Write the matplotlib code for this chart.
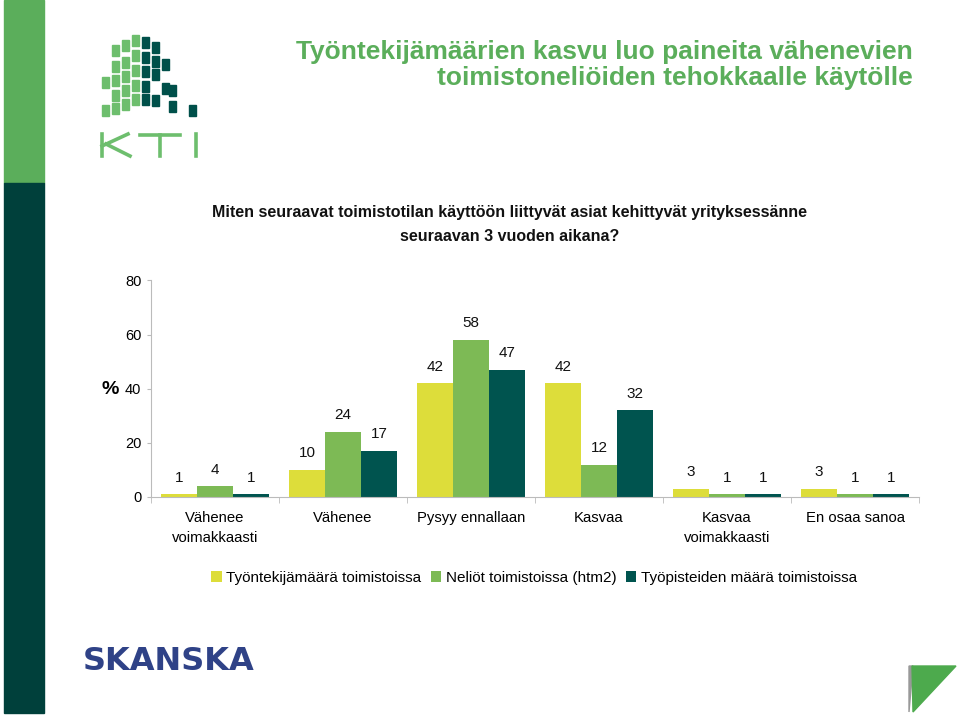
import matplotlib
matplotlib.use("Agg")
import matplotlib.pyplot as plt
from matplotlib.patches import Rectangle, Polygon
from matplotlib.lines import Line2D
import numpy as np

plt.rcParams['font.family'] = ['Liberation Sans', 'DejaVu Sans']

categories = ["Vähenee\nvoimakkaasti", "Vähenee", "Pysyy ennallaan", "Kasvaa",
              "Kasvaa\nvoimakkaasti", "En osaa sanoa"]
series_names = ["Työntekijämäärä toimistoissa", "Neliöt toimistoissa (htm2)",
                "Työpisteiden määrä toimistoissa"]
tyontekijat = [1, 10, 42, 42, 3, 3]
neliot = [4, 24, 58, 12, 1, 1]
tyopisteet = [1, 17, 47, 32, 1, 1]
yticks = [0, 20, 40, 60, 80]

colors = ["#DDDD3A", "#7DBA55", "#00544F"]

W, H = 960, 716
fig = plt.figure(figsize=(W / 100, H / 100), dpi=100)

def fx(px):
    return px / W

def fy(py):
    return 1 - py / H

# left decorative strip
fig.patches.append(Rectangle((fx(4), fy(183)), fx(40), 183 / H, transform=fig.transFigure,
                             color="#5BAE5B", zorder=0))
fig.patches.append(Rectangle((fx(4), fy(713)), fx(40), 530 / H, transform=fig.transFigure,
                             color="#00403B", zorder=0))

# KTI logo squares (decorative)
light = [(135, 40), (135, 55), (135, 70), (135, 85), (135, 99),
         (125, 45), (125, 62), (125, 76), (125, 90), (125, 104),
         (115, 50), (115, 66), (115, 80), (115, 95), (115, 108),
         (105, 82), (105, 110)]
dark = [(145, 42), (145, 57), (145, 71), (145, 86), (145, 99),
        (155, 47), (155, 61), (155, 74), (155, 100),
        (165, 64), (165, 88), (172, 90), (172, 106), (192, 110)]
for pts, c in ((light, "#6DBE6D"), (dark, "#00504A")):
    for (x, y) in pts:
        fig.patches.append(Rectangle((fx(x - 3), fy(y + 6)), fx(7), 11 / H,
                                     transform=fig.transFigure, color=c, zorder=1))
kc = "#6DBE6D"
for (x0, y0, x1, y1) in [(102, 134, 102, 156), (102, 146, 128, 134), (106, 144, 130, 156),
                         (140, 135, 180, 135), (160, 135, 160, 156), (196, 134, 196, 156)]:
    fig.lines.append(Line2D([fx(x0), fx(x1)], [fy(y0), fy(y1)], transform=fig.transFigure,
                            color=kc, lw=2.6))

# titles
fig.text(fx(913), fy(52), "Työntekijämäärien kasvu luo paineita vähenevien",
         ha="right", va="center", fontsize=19, fontweight="bold", color="#5BAE5B")
fig.text(fx(913), fy(78), "toimistoneliöiden tehokkaalle käytölle",
         ha="right", va="center", fontsize=19, fontweight="bold", color="#5BAE5B")
fig.text(fx(510), fy(213), "Miten seuraavat toimistotilan käyttöön liittyvät asiat kehittyvät yrityksessänne",
         ha="center", va="center", fontsize=11.5, fontweight="bold", color="#111111")
fig.text(fx(510), fy(236), "seuraavan 3 vuoden aikana?",
         ha="center", va="center", fontsize=11.5, fontweight="bold", color="#111111")

# chart
ax = fig.add_axes([fx(151), fy(497), fx(768), (497 - 280.5) / H])
x = np.arange(len(categories))
bw = 0.28
for i, (vals, c, name) in enumerate(zip([tyontekijat, neliot, tyopisteet], colors, series_names)):
    bars = ax.bar(x + (i - 1) * bw, vals, width=bw, color=c, label=name, zorder=2)
    for b, v in zip(bars, vals):
        ax.annotate(str(v), (b.get_x() + b.get_width() / 2, v), xytext=(0, 12),
                    textcoords="offset points", ha="center", va="center",
                    fontsize=11, color="#111111")

ax.set_xlim(-0.5, len(categories) - 0.5)
ax.set_ylim(0, 80)
ax.set_yticks(yticks)
ax.set_yticklabels([str(t) for t in yticks], fontsize=10.5)
ax.set_xticks(x)
ax.set_xticklabels(categories, fontsize=10.7)
ax.tick_params(axis="x", length=0, pad=10)
ax.set_xticks(np.arange(len(categories) + 1) - 0.5, minor=True)
ax.tick_params(axis="x", which="minor", length=4, color="#BBBBBB", direction="out")
ax.tick_params(axis="y", length=3, color="#BBBBBB", pad=4)
for s in ("top", "right"):
    ax.spines[s].set_visible(False)
for s in ("left", "bottom"):
    ax.spines[s].set_color("#BBBBBB")
    ax.spines[s].set_linewidth(0.8)
for lab in ax.get_xticklabels():
    lab.set_linespacing(1.6)
fig.text(fx(110), fy(390), "%", ha="center", va="center", fontsize=14, fontweight="bold")

handles, labels = ax.get_legend_handles_labels()
fig.legend(handles, labels, loc="center", bbox_to_anchor=(fx(534), fy(578)), ncol=3,
           frameon=False, fontsize=11, handlelength=0.7, handleheight=0.7,
           handletextpad=0.3, columnspacing=0.6)

# Skanska logo text
fig.text(fx(83), fy(662), "SKANSKA", ha="left", va="center", fontsize=23,
         fontweight="heavy", color="#2F4287", family="DejaVu Sans")

# bottom-right triangle
fig.patches.append(Polygon([(fx(909), fy(666)), (fx(913), fy(666)), (fx(909), fy(712))],
                           closed=True, transform=fig.transFigure, color="#999999"))
fig.patches.append(Polygon([(fx(912), fy(666)), (fx(956), fy(666)), (fx(913), fy(712))],
                           closed=True, transform=fig.transFigure, color="#4DAA4D"))

fig.savefig("out.png", dpi=100)
